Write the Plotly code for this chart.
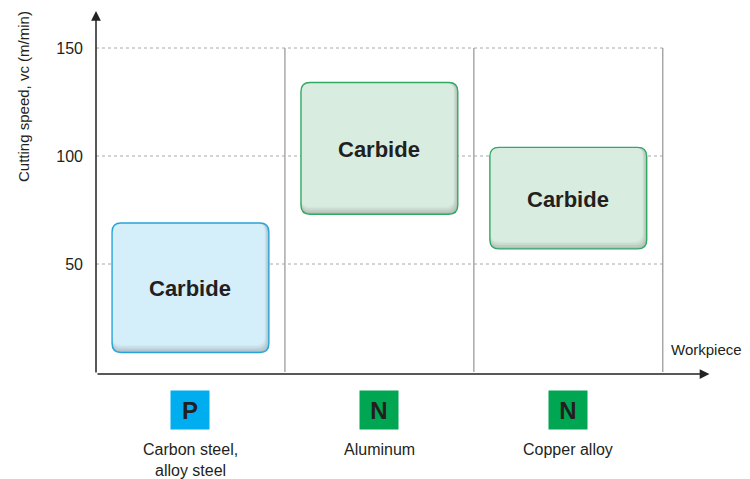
import plotly.graph_objects as go

# Workpiece groups and recommended cutting-speed windows for carbide tools
categories = ["Carbon steel,\nalloy steel", "Aluminum", "Copper alloy"]
iso_groups = ["P", "N", "N"]
tool_grade = ["Carbide", "Carbide", "Carbide"]
vc_low = [9, 73, 57]
vc_high = [69, 134, 104]
y_ticks = [50, 100, 150]

# Colours per ISO group
iso_color = {"P": "#00AEEF", "N": "#00A651"}
box_fill = {"P": "#D4EEFA", "N": "#D8ECDF"}
box_line = {"P": "#2AA3D8", "N": "#32A865"}

# Layout geometry
W, H = 750, 479
ML, MR, MT, MB = 96, 40, 10, 105
PW, PH = W - ML - MR, H - MT - MB
X_RANGE = [0, 3.25]
Y_RANGE = [-0.93, 167.6]
PX_X = PW / (X_RANGE[1] - X_RANGE[0])
PX_Y = PH / (Y_RANGE[1] - Y_RANGE[0])

TEXT = "#231F20"
FONT = "Liberation Sans, Arial, sans-serif"


def px_to_paper_y(py):
    return (H - MB - py) / PH


def px_to_paper_x(px):
    return (px - ML) / PW


def mix(hex_a, hex_b, t):
    a = [int(hex_a[i:i + 2], 16) for i in (1, 3, 5)]
    b = [int(hex_b[i:i + 2], 16) for i in (1, 3, 5)]
    c = [round(a[k] * (1 - t) + b[k] * t) for k in range(3)]
    return "#" + "".join(f"{v:02X}" for v in c)


def rounded_rect(x0, x1, y0, y1, r_px):
    rx, ry = r_px / PX_X, r_px / PX_Y
    return (
        f"M {x0 + rx},{y0} L {x1 - rx},{y0} Q {x1},{y0} {x1},{y0 + ry} "
        f"L {x1},{y1 - ry} Q {x1},{y1} {x1 - rx},{y1} "
        f"L {x0 + rx},{y1} Q {x0},{y1} {x0},{y1 - ry} "
        f"L {x0},{y0 + ry} Q {x0},{y0} {x0 + rx},{y0} Z"
    )


fig = go.Figure()
shapes = []
annotations = []

n = len(categories)

# Dotted horizontal guides
for v in y_ticks:
    shapes.append(dict(type="line", xref="x", yref="y", x0=0, x1=n, y0=v, y1=v,
                       line=dict(color="#A8A8A8", width=1, dash="dot"), layer="below"))

# Column separators
for i in range(1, n + 1):
    shapes.append(dict(type="line", xref="x", yref="y", x0=i, x1=i, y0=0, y1=max(y_ticks),
                       line=dict(color="#9C9C9C", width=1.3), layer="below"))

half_w = 0.415
for i in range(n):
    cx = i + 0.5
    g = iso_groups[i]
    x0, x1 = cx - half_w, cx + half_w
    y0, y1 = vc_low[i], vc_high[i]
    # bevelled body: darker rim on the lower/right side fading into the face
    steps = [(0.0, 0.0, 0.36), (1.2, 2.0, 0.25), (2.4, 4.0, 0.14), (3.4, 6.0, 0.05), (4.2, 7.5, 0.0)]
    for inset_r, inset_b, t in steps:
        shapes.append(dict(type="path", xref="x", yref="y",
                           path=rounded_rect(x0, x1 - inset_r / PX_X, y0 + inset_b / PX_Y, y1, 9),
                           fillcolor=mix(box_fill[g], "#6E6E6E", t), line=dict(width=0)))
    # outline
    shapes.append(dict(type="path", xref="x", yref="y",
                       path=rounded_rect(x0, x1, y0, y1, 9),
                       fillcolor="rgba(0,0,0,0)", line=dict(color=box_line[g], width=1.4)))
    annotations.append(dict(x=cx, y=(y0 + y1) / 2 - 1.2 / PX_Y, xref="x", yref="y",
                            text=f"<b>{tool_grade[i]}</b>", showarrow=False,
                            font=dict(family=FONT, size=22, color=TEXT)))
    # ISO badge
    annotations.append(dict(x=cx, y=px_to_paper_y(410), xref="x", yref="paper", yanchor="middle",
                            text=f"<b>{g}</b>", showarrow=False,
                            bgcolor=iso_color[g], width=38, height=38, borderpad=0,
                            font=dict(family=FONT, size=24, color=TEXT)))
    # workpiece name, one annotation per line
    for k, line in enumerate(categories[i].split("\n")):
        annotations.append(dict(x=cx, y=px_to_paper_y(449 + 21 * k), xref="x", yref="paper",
                                yanchor="middle", text=line, showarrow=False,
                                font=dict(family=FONT, size=16, color=TEXT)))

# Axis arrows
annotations.append(dict(x=0, y=Y_RANGE[1] - 0.5, ax=0, ay=Y_RANGE[0], xref="x", yref="y",
                        axref="x", ayref="y", text="", showarrow=True, arrowhead=2,
                        arrowsize=1.3, arrowwidth=1.5, arrowcolor="#222222"))
annotations.append(dict(x=X_RANGE[1] - 0.003, y=Y_RANGE[0], ax=0, ay=Y_RANGE[0], xref="x", yref="y",
                        axref="x", ayref="y", text="", showarrow=True, arrowhead=2,
                        arrowsize=1.3, arrowwidth=1.5, arrowcolor="#222222"))

# Axis captions
annotations.append(dict(x=px_to_paper_x(706), y=px_to_paper_y(349), xref="paper", yref="paper",
                        text="Workpiece", showarrow=False, xanchor="center", yanchor="middle",
                        font=dict(family=FONT, size=15, color=TEXT)))
annotations.append(dict(x=px_to_paper_x(23), y=px_to_paper_y(97), xref="paper", yref="paper",
                        text="Cutting speed, vc (m/min)", textangle=-90, showarrow=False,
                        xanchor="center", yanchor="middle",
                        font=dict(family=FONT, size=15, color=TEXT)))

fig.add_trace(go.Scatter(x=[None], y=[None], showlegend=False, hoverinfo="skip"))

fig.update_layout(
    width=W, height=H,
    margin=dict(l=ML, r=MR, t=MT, b=MB),
    paper_bgcolor="white", plot_bgcolor="white",
    showlegend=False,
    shapes=shapes, annotations=annotations,
    xaxis=dict(range=X_RANGE, visible=False, fixedrange=True),
    yaxis=dict(range=Y_RANGE, tickvals=y_ticks, ticktext=[str(v) for v in y_ticks],
               showgrid=False, zeroline=False, showline=False, ticks="",
               ticklabelstandoff=12, tickfont=dict(family=FONT, size=16, color=TEXT),
               fixedrange=True),
)

fig.write_html("out.html")
